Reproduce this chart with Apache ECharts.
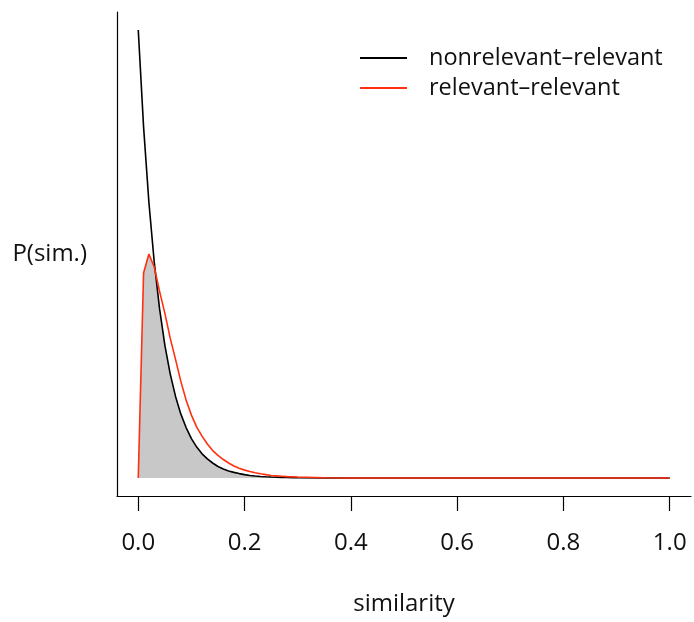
<!DOCTYPE html>
<html>
<head>
<meta charset="utf-8">
<script src="https://cdn.jsdelivr.net/npm/echarts@6/dist/echarts.min.js"></script>
<style>html,body{margin:0;padding:0;background:#fff}#c{width:694px;height:622px}</style>
</head>
<body>
<div id="c"></div>
<script>
// similarity grid
const simX = [0,0.01,0.02,0.03,0.04,0.05,0.06,0.07,0.08,0.09,0.10,0.11,0.12,0.13,0.14,0.15,0.16,0.17,0.18,0.19,0.20,0.21,0.22,0.23,0.24,0.25,0.26,0.27,0.28,0.29,0.30,0.35,0.40,0.50,0.60,0.70,0.80,0.90,1.00];
// P(sim.) nonrelevant-relevant
const nonrelRel = [22.0,17.24,13.54,10.61,8.33,6.53,5.13,4.02,3.15,2.48,1.94,1.52,1.19,0.94,0.74,0.57,0.45,0.35,0.28,0.22,0.17,0.13,0.10,0.08,0.064,0.05,0.04,0.03,0.025,0.02,0.015,0.004,0.001,0,0,0,0,0,0];
// P(sim.) relevant-relevant
const relRel = [0,10.07,11.0,10.36,9.18,8.10,6.88,5.84,4.76,3.83,3.09,2.50,2.06,1.67,1.35,1.11,0.91,0.74,0.59,0.48,0.39,0.32,0.26,0.21,0.17,0.13,0.11,0.09,0.07,0.06,0.05,0.015,0.005,0,0,0,0,0,0];
const xTicks = [0,0.2,0.4,0.6,0.8,1.0];
const seriesNames = ['nonrelevant\u2013relevant','relevant\u2013relevant'];

const FONT = '"Open Sans"';
const black = simX.map((x,i)=>[x,nonrelRel[i]]);
const red = simX.map((x,i)=>[x,relRel[i]]);
const overlap = simX.map((x,i)=>[x,Math.min(nonrelRel[i],relRel[i])]);

const chart = echarts.init(document.getElementById('c'), null, {renderer:'canvas'});
chart.setOption({
  animation:false,
  backgroundColor:'#ffffff',
  grid:{left:117,right:3,top:12,bottom:126,containLabel:false},
  xAxis:{
    type:'value',min:-0.04,max:1.04,
    splitLine:{show:false},
    axisLine:{show:true,onZero:false,lineStyle:{color:'#000',width:1.2}},
    axisTick:{show:true,customValues:xTicks,length:15,lineStyle:{color:'#000',width:1.2}},
    axisLabel:{show:true,customValues:xTicks,margin:35,color:'#111',fontFamily:FONT,fontSize:24,
      formatter:v=>v.toFixed(1)},
    name:'similarity',nameLocation:'middle',nameGap:96,
    nameTextStyle:{color:'#111',fontFamily:FONT,fontSize:24}
  },
  yAxis:{
    type:'value',min:-0.88,max:22.88,
    splitLine:{show:false},
    axisLine:{show:true,onZero:false,lineStyle:{color:'#000',width:1.2}},
    axisTick:{show:false},axisLabel:{show:false},
    name:'P(sim.)',nameLocation:'middle',nameRotate:0,nameGap:30,
    nameTextStyle:{color:'#111',fontFamily:FONT,fontSize:24,align:'right'}
  },
  legend:{
    data:seriesNames,orient:'vertical',left:355,top:41,
    icon:'rect',itemWidth:47,itemHeight:2,itemGap:6,
    textStyle:{color:'#111',fontFamily:FONT,fontSize:23.5,padding:[0,0,0,17]}
  },
  series:[
    {type:'line',name:'overlap',data:overlap,showSymbol:false,silent:true,
      lineStyle:{width:0},areaStyle:{color:'#c8c8c8',opacity:1,origin:0},z:1},
    {type:'line',name:seriesNames[0],data:black,showSymbol:false,
      itemStyle:{color:'#000'},lineStyle:{color:'#000',width:1.6},z:2},
    {type:'line',name:seriesNames[1],data:red,showSymbol:false,
      itemStyle:{color:'#ff3010'},lineStyle:{color:'#ff3010',width:1.6},z:3}
  ]
});
</script>
</body>
</html>
